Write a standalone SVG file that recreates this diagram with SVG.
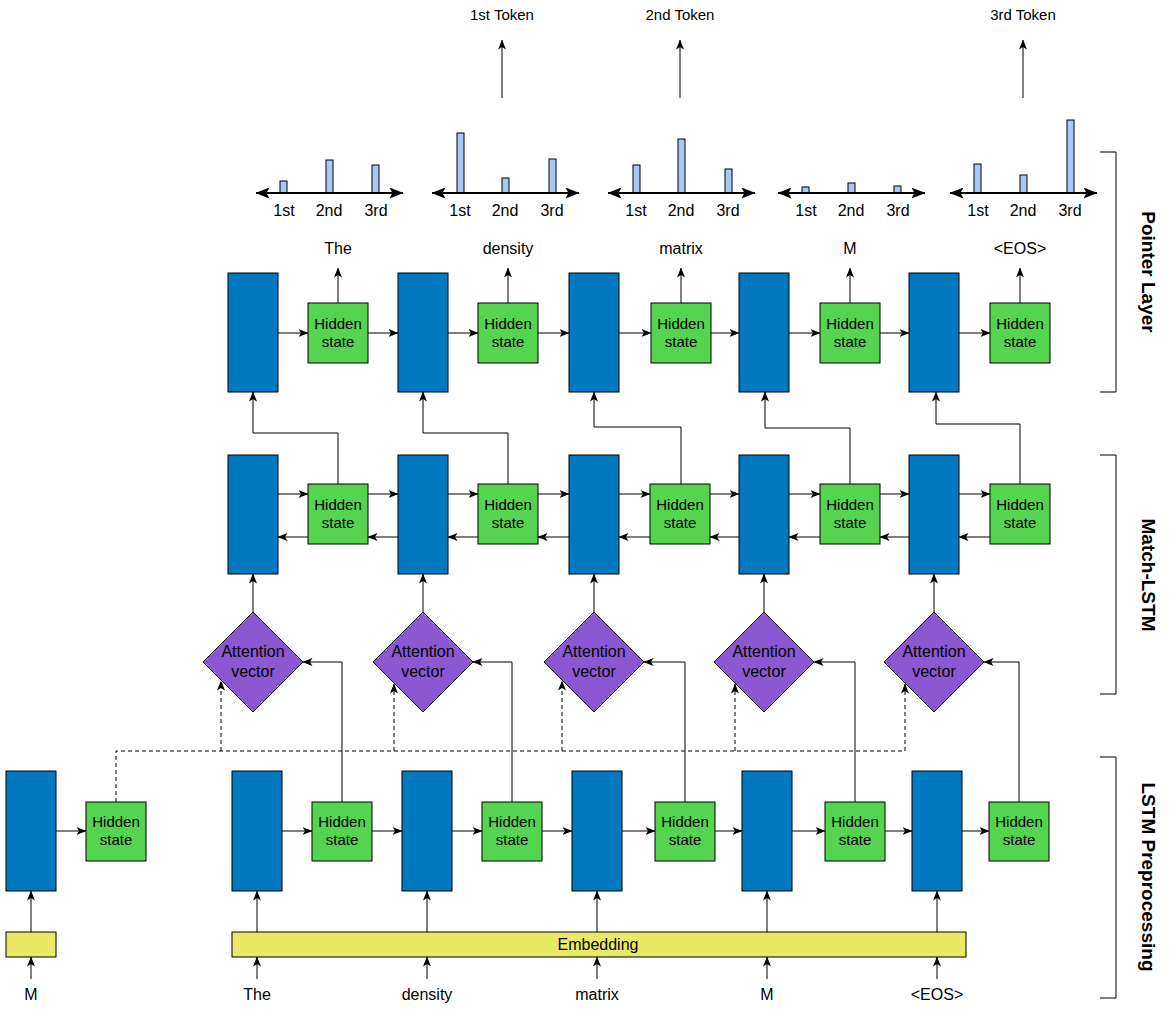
<svg xmlns="http://www.w3.org/2000/svg" width="1172" height="1009" viewBox="0 0 1172 1009">
  <defs>
    <marker id="arr" viewBox="0 0 10 8" refX="9.5" refY="4" markerWidth="10" markerHeight="8" markerUnits="userSpaceOnUse" orient="auto">
      <path d="M0,0 L10,4 L0,8 L2.5,4 z" fill="#000"/>
    </marker>
    <marker id="axisArr" viewBox="0 0 14 11" refX="13.5" refY="5.5" markerWidth="14" markerHeight="11" markerUnits="userSpaceOnUse" orient="auto-start-reverse">
      <path d="M0,0 L14,5.5 L0,11 L3,5.5 z" fill="#000"/>
    </marker>
    <style>
      .blue { fill: #0079C1; stroke: #000; stroke-width: 1; }
      .green { fill: #55D44F; stroke: #000; stroke-width: 1; }
      .purple { fill: #8B57D2; stroke: #000; stroke-width: 1; }
      .yellow { fill: #E8EA66; stroke: #000; stroke-width: 1; }
      .bar { fill: #A9C8F5; stroke: #000; stroke-width: 1; }
      .axis { stroke: #000; stroke-width: 2; fill: none; marker-start: url(#axisArr); marker-end: url(#axisArr); }
      .ar { stroke: #000; stroke-width: 1; fill: none; marker-end: url(#arr); }
      .dash { stroke: #000; stroke-width: 1; fill: none; stroke-dasharray: 4 3; }
      .dashar { stroke: #000; stroke-width: 1; fill: none; stroke-dasharray: 4 3; marker-end: url(#arr); }
      .bracket { stroke: #000; stroke-width: 1; fill: none; }
      text { font-family: "Liberation Sans", Arial, Helvetica, sans-serif; fill: #000; }
      .t { font-size: 16px; text-anchor: middle; }
      .tok { font-size: 15px; text-anchor: middle; }
      .box { font-size: 15px; text-anchor: middle; }
      .att { font-size: 16px; text-anchor: middle; }
      .side { font-size: 19px; font-weight: bold; text-anchor: middle; }
    </style>
  </defs>

  <!-- Output token labels -->
  <g id="token-outputs">
    <text class="tok" x="502" y="20">1st Token</text>
    <text class="tok" x="680" y="20">2nd Token</text>
    <text class="tok" x="1023" y="20">3rd Token</text>
  </g>

  <!-- Pointer distributions over candidate positions -->
  <g id="dist-1">
    <rect class="bar" x="280" y="181" width="7" height="12"/>
    <rect class="bar" x="326" y="160" width="7" height="33"/>
    <rect class="bar" x="372" y="165" width="7" height="28"/>
    <line class="axis" x1="256" y1="193" x2="403" y2="193"/>
    <text class="t" x="284" y="216">1st</text>
    <text class="t" x="329" y="216">2nd</text>
    <text class="t" x="376" y="216">3rd</text>
  </g>
  <g id="dist-2">
    <rect class="bar" x="457" y="133" width="7" height="60"/>
    <rect class="bar" x="502" y="178" width="7" height="15"/>
    <rect class="bar" x="549" y="159" width="7" height="34"/>
    <line class="axis" x1="432" y1="193" x2="579" y2="193"/>
    <text class="t" x="460" y="216">1st</text>
    <text class="t" x="505" y="216">2nd</text>
    <text class="t" x="552" y="216">3rd</text>
  </g>
  <g id="dist-3">
    <rect class="bar" x="633" y="165" width="7" height="28"/>
    <rect class="bar" x="678" y="139" width="7" height="54"/>
    <rect class="bar" x="725" y="169" width="7" height="24"/>
    <line class="axis" x1="608" y1="193" x2="755" y2="193"/>
    <text class="t" x="636" y="216">1st</text>
    <text class="t" x="681" y="216">2nd</text>
    <text class="t" x="728" y="216">3rd</text>
  </g>
  <g id="dist-4">
    <rect class="bar" x="802" y="187" width="7" height="6"/>
    <rect class="bar" x="848" y="183" width="7" height="10"/>
    <rect class="bar" x="894" y="186" width="7" height="7"/>
    <line class="axis" x1="778" y1="193" x2="925" y2="193"/>
    <text class="t" x="806" y="216">1st</text>
    <text class="t" x="851" y="216">2nd</text>
    <text class="t" x="898" y="216">3rd</text>
  </g>
  <g id="dist-5">
    <rect class="bar" x="974" y="164" width="7" height="29"/>
    <rect class="bar" x="1020" y="175" width="7" height="18"/>
    <rect class="bar" x="1067" y="120" width="7" height="73"/>
    <line class="axis" x1="950" y1="193" x2="1097" y2="193"/>
    <text class="t" x="978" y="216">1st</text>
    <text class="t" x="1023" y="216">2nd</text>
    <text class="t" x="1070" y="216">3rd</text>
  </g>

  <!-- Pointer layer labels -->
  <g id="pointer-labels">
    <text class="t" x="338" y="254">The</text>
    <text class="t" x="508" y="254">density</text>
    <text class="t" x="681" y="254">matrix</text>
    <text class="t" x="850" y="254">M</text>
    <text class="t" x="1020" y="254">&lt;EOS&gt;</text>
  </g>

  <!-- Connectors -->
  <g id="connectors">
    <!-- token arrows -->
    <line class="ar" x1="502" y1="98" x2="502" y2="40"/>
    <line class="ar" x1="680" y1="98" x2="680" y2="40"/>
    <line class="ar" x1="1023" y1="98" x2="1023" y2="40"/>

    <!-- pointer layer: outputs -->
    <line class="ar" x1="338" y1="303" x2="338" y2="268"/>
    <line class="ar" x1="508" y1="303" x2="508" y2="268"/>
    <line class="ar" x1="681" y1="303" x2="681" y2="268"/>
    <line class="ar" x1="850" y1="303" x2="850" y2="268"/>
    <line class="ar" x1="1020" y1="303" x2="1020" y2="268"/>

    <!-- pointer layer: recurrence -->
    <line class="ar" x1="278" y1="333" x2="308" y2="333"/>
    <line class="ar" x1="368" y1="333" x2="398" y2="333"/>
    <line class="ar" x1="448" y1="333" x2="478" y2="333"/>
    <line class="ar" x1="538" y1="333" x2="569" y2="333"/>
    <line class="ar" x1="619" y1="333" x2="651" y2="333"/>
    <line class="ar" x1="711" y1="333" x2="739" y2="333"/>
    <line class="ar" x1="789" y1="333" x2="820" y2="333"/>
    <line class="ar" x1="880" y1="333" x2="909" y2="333"/>
    <line class="ar" x1="959" y1="333" x2="990" y2="333"/>

    <!-- match-LSTM to pointer layer -->
    <polyline class="ar" points="338,484 338,433 253,433 253,392"/>
    <polyline class="ar" points="508,484 508,433 423,433 423,392"/>
    <polyline class="ar" points="681,484 681,427 594,427 594,392"/>
    <polyline class="ar" points="850,484 850,428 765,428 765,392"/>
    <polyline class="ar" points="1020,484 1020,424 936,424 936,392"/>

    <!-- match-LSTM: forward -->
    <line class="ar" x1="278" y1="494" x2="308" y2="494"/>
    <line class="ar" x1="368" y1="494" x2="398" y2="494"/>
    <line class="ar" x1="448" y1="494" x2="478" y2="494"/>
    <line class="ar" x1="538" y1="494" x2="569" y2="494"/>
    <line class="ar" x1="619" y1="494" x2="650" y2="494"/>
    <line class="ar" x1="710" y1="494" x2="739" y2="494"/>
    <line class="ar" x1="789" y1="494" x2="820" y2="494"/>
    <line class="ar" x1="880" y1="494" x2="909" y2="494"/>
    <line class="ar" x1="959" y1="494" x2="990" y2="494"/>

    <!-- match-LSTM: backward -->
    <line class="ar" x1="308" y1="537" x2="278" y2="537"/>
    <line class="ar" x1="398" y1="537" x2="368" y2="537"/>
    <line class="ar" x1="478" y1="537" x2="448" y2="537"/>
    <line class="ar" x1="569" y1="537" x2="538" y2="537"/>
    <line class="ar" x1="650" y1="537" x2="619" y2="537"/>
    <line class="ar" x1="739" y1="537" x2="710" y2="537"/>
    <line class="ar" x1="820" y1="537" x2="789" y2="537"/>
    <line class="ar" x1="909" y1="537" x2="880" y2="537"/>
    <line class="ar" x1="990" y1="537" x2="959" y2="537"/>

    <!-- attention to match-LSTM -->
    <line class="ar" x1="253" y1="612" x2="253" y2="574"/>
    <line class="ar" x1="423" y1="612" x2="423" y2="574"/>
    <line class="ar" x1="594" y1="612" x2="594" y2="574"/>
    <line class="ar" x1="764" y1="612" x2="764" y2="574"/>
    <line class="ar" x1="934" y1="612" x2="934" y2="574"/>

    <!-- passage states into attention -->
    <polyline class="ar" points="342,802 342,662 303,662"/>
    <polyline class="ar" points="512,802 512,662 473,662"/>
    <polyline class="ar" points="685,802 685,662 644,662"/>
    <polyline class="ar" points="855,802 855,662 814,662"/>
    <polyline class="ar" points="1019,802 1019,662 984,662"/>

    <!-- question state into attention (dashed) -->
    <polyline class="dash" points="116,802 116,751 905,751"/>
    <line class="dashar" x1="221" y1="751" x2="221" y2="681"/>
    <line class="dashar" x1="394" y1="751" x2="394" y2="684"/>
    <line class="dashar" x1="562" y1="751" x2="562" y2="681"/>
    <line class="dashar" x1="735" y1="751" x2="735" y2="684"/>
    <line class="dashar" x1="905" y1="751" x2="905" y2="684"/>

    <!-- preprocessing recurrence -->
    <line class="ar" x1="56" y1="831" x2="86" y2="831"/>
    <line class="ar" x1="282" y1="831" x2="312" y2="831"/>
    <line class="ar" x1="372" y1="831" x2="402" y2="831"/>
    <line class="ar" x1="452" y1="831" x2="482" y2="831"/>
    <line class="ar" x1="542" y1="831" x2="572" y2="831"/>
    <line class="ar" x1="622" y1="831" x2="655" y2="831"/>
    <line class="ar" x1="715" y1="831" x2="742" y2="831"/>
    <line class="ar" x1="792" y1="831" x2="825" y2="831"/>
    <line class="ar" x1="885" y1="831" x2="912" y2="831"/>
    <line class="ar" x1="962" y1="831" x2="989" y2="831"/>

    <!-- embeddings to LSTM -->
    <line class="ar" x1="31" y1="932" x2="31" y2="891"/>
    <line class="ar" x1="257" y1="932" x2="257" y2="891"/>
    <line class="ar" x1="427" y1="932" x2="427" y2="891"/>
    <line class="ar" x1="597" y1="932" x2="597" y2="891"/>
    <line class="ar" x1="767" y1="932" x2="767" y2="891"/>
    <line class="ar" x1="937" y1="932" x2="937" y2="891"/>

    <!-- words to embeddings -->
    <line class="ar" x1="31" y1="979" x2="31" y2="957"/>
    <line class="ar" x1="257" y1="979" x2="257" y2="957"/>
    <line class="ar" x1="427" y1="979" x2="427" y2="957"/>
    <line class="ar" x1="597" y1="979" x2="597" y2="957"/>
    <line class="ar" x1="767" y1="979" x2="767" y2="957"/>
    <line class="ar" x1="937" y1="979" x2="937" y2="957"/>
  </g>

  <!-- Pointer layer cells -->
  <g id="ptr-cell-1"><rect class="blue" x="228" y="273" width="50" height="119"/></g>
  <g id="ptr-hidden-1"><rect class="green" x="308" y="303" width="60" height="60"/><text class="box" x="338" y="329">Hidden</text><text class="box" x="338" y="347">state</text></g>
  <g id="ptr-cell-2"><rect class="blue" x="398" y="273" width="50" height="119"/></g>
  <g id="ptr-hidden-2"><rect class="green" x="478" y="303" width="60" height="60"/><text class="box" x="508" y="329">Hidden</text><text class="box" x="508" y="347">state</text></g>
  <g id="ptr-cell-3"><rect class="blue" x="569" y="273" width="50" height="119"/></g>
  <g id="ptr-hidden-3"><rect class="green" x="651" y="303" width="60" height="60"/><text class="box" x="681" y="329">Hidden</text><text class="box" x="681" y="347">state</text></g>
  <g id="ptr-cell-4"><rect class="blue" x="739" y="273" width="50" height="119"/></g>
  <g id="ptr-hidden-4"><rect class="green" x="820" y="303" width="60" height="60"/><text class="box" x="850" y="329">Hidden</text><text class="box" x="850" y="347">state</text></g>
  <g id="ptr-cell-5"><rect class="blue" x="909" y="273" width="50" height="119"/></g>
  <g id="ptr-hidden-5"><rect class="green" x="990" y="303" width="60" height="60"/><text class="box" x="1020" y="329">Hidden</text><text class="box" x="1020" y="347">state</text></g>

  <!-- Match-LSTM cells -->
  <g id="match-cell-1"><rect class="blue" x="228" y="455" width="50" height="119"/></g>
  <g id="match-hidden-1"><rect class="green" x="308" y="484" width="60" height="60"/><text class="box" x="338" y="510">Hidden</text><text class="box" x="338" y="528">state</text></g>
  <g id="match-cell-2"><rect class="blue" x="398" y="455" width="50" height="119"/></g>
  <g id="match-hidden-2"><rect class="green" x="478" y="484" width="60" height="60"/><text class="box" x="508" y="510">Hidden</text><text class="box" x="508" y="528">state</text></g>
  <g id="match-cell-3"><rect class="blue" x="569" y="455" width="50" height="119"/></g>
  <g id="match-hidden-3"><rect class="green" x="650" y="484" width="60" height="60"/><text class="box" x="680" y="510">Hidden</text><text class="box" x="680" y="528">state</text></g>
  <g id="match-cell-4"><rect class="blue" x="739" y="455" width="50" height="119"/></g>
  <g id="match-hidden-4"><rect class="green" x="820" y="484" width="60" height="60"/><text class="box" x="850" y="510">Hidden</text><text class="box" x="850" y="528">state</text></g>
  <g id="match-cell-5"><rect class="blue" x="909" y="455" width="50" height="119"/></g>
  <g id="match-hidden-5"><rect class="green" x="990" y="484" width="60" height="60"/><text class="box" x="1020" y="510">Hidden</text><text class="box" x="1020" y="528">state</text></g>

  <!-- Attention vectors -->
  <g id="attn-1"><polygon class="purple" points="253,612 303,662 253,712 203,662"/><text class="att" x="253" y="657">Attention</text><text class="att" x="253" y="677">vector</text></g>
  <g id="attn-2"><polygon class="purple" points="423,612 473,662 423,712 373,662"/><text class="att" x="423" y="657">Attention</text><text class="att" x="423" y="677">vector</text></g>
  <g id="attn-3"><polygon class="purple" points="594,612 644,662 594,712 544,662"/><text class="att" x="594" y="657">Attention</text><text class="att" x="594" y="677">vector</text></g>
  <g id="attn-4"><polygon class="purple" points="764,612 814,662 764,712 714,662"/><text class="att" x="764" y="657">Attention</text><text class="att" x="764" y="677">vector</text></g>
  <g id="attn-5"><polygon class="purple" points="934,612 984,662 934,712 884,662"/><text class="att" x="934" y="657">Attention</text><text class="att" x="934" y="677">vector</text></g>

  <!-- Question encoder -->
  <g id="q-cell"><rect class="blue" x="6" y="771" width="50" height="120"/></g>
  <g id="q-hidden"><rect class="green" x="86" y="802" width="60" height="59"/><text class="box" x="116" y="827">Hidden</text><text class="box" x="116" y="845">state</text></g>
  <g id="q-embed"><rect class="yellow" x="6" y="932" width="50" height="25"/></g>
  <g id="q-word"><text class="t" x="31" y="1000">M</text></g>

  <!-- Passage encoder -->
  <g id="p-cell-1"><rect class="blue" x="232" y="771" width="50" height="120"/></g>
  <g id="p-hidden-1"><rect class="green" x="312" y="802" width="60" height="59"/><text class="box" x="342" y="827">Hidden</text><text class="box" x="342" y="845">state</text></g>
  <g id="p-cell-2"><rect class="blue" x="402" y="771" width="50" height="120"/></g>
  <g id="p-hidden-2"><rect class="green" x="482" y="802" width="60" height="59"/><text class="box" x="512" y="827">Hidden</text><text class="box" x="512" y="845">state</text></g>
  <g id="p-cell-3"><rect class="blue" x="572" y="771" width="50" height="120"/></g>
  <g id="p-hidden-3"><rect class="green" x="655" y="802" width="60" height="59"/><text class="box" x="685" y="827">Hidden</text><text class="box" x="685" y="845">state</text></g>
  <g id="p-cell-4"><rect class="blue" x="742" y="771" width="50" height="120"/></g>
  <g id="p-hidden-4"><rect class="green" x="825" y="802" width="60" height="59"/><text class="box" x="855" y="827">Hidden</text><text class="box" x="855" y="845">state</text></g>
  <g id="p-cell-5"><rect class="blue" x="912" y="771" width="50" height="120"/></g>
  <g id="p-hidden-5"><rect class="green" x="989" y="802" width="60" height="59"/><text class="box" x="1019" y="827">Hidden</text><text class="box" x="1019" y="845">state</text></g>

  <g id="embedding"><rect class="yellow" x="232" y="932" width="734" height="25"/><text class="t" x="598" y="950">Embedding</text></g>

  <g id="passage-words">
    <text class="t" x="257" y="1000">The</text>
    <text class="t" x="427" y="1000">density</text>
    <text class="t" x="597" y="1000">matrix</text>
    <text class="t" x="767" y="1000">M</text>
    <text class="t" x="937" y="1000">&lt;EOS&gt;</text>
  </g>

  <!-- Layer brackets -->
  <g id="bracket-pointer">
    <polyline class="bracket" points="1100,152 1116,152 1116,392 1100,392"/>
    <text class="side" transform="translate(1142,272) rotate(90)">Pointer Layer</text>
  </g>
  <g id="bracket-match">
    <polyline class="bracket" points="1100,455 1116,455 1116,694 1100,694"/>
    <text class="side" transform="translate(1142,575) rotate(90)">Match-LSTM</text>
  </g>
  <g id="bracket-lstm">
    <polyline class="bracket" points="1100,757 1116,757 1116,998 1100,998"/>
    <text class="side" transform="translate(1142,877) rotate(90)">LSTM Preprocessing</text>
  </g>
</svg>
